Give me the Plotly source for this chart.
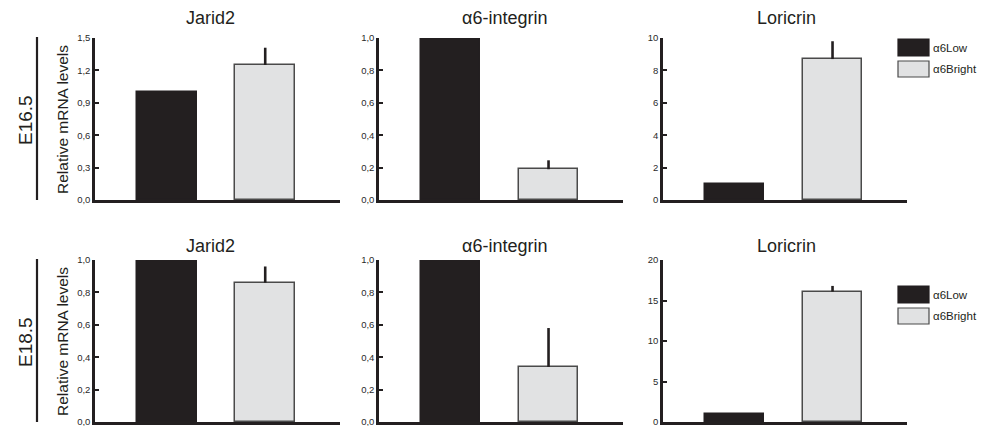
import plotly.graph_objects as go

# ---- data ----
genes = ["Jarid2", "α6-integrin", "Loricrin"]
stages = ["E16.5", "E18.5"]
groups = ["α6Low", "α6Bright"]

e165_jarid2 = [1.0, 1.25]
e165_jarid2_err = [0.0, 0.16]
e165_itga6 = [1.0, 0.19]
e165_itga6_err = [0.0, 0.055]
e165_lor = [1.0, 8.7]
e165_lor_err = [0.0, 1.1]

e185_jarid2 = [1.0, 0.86]
e185_jarid2_err = [0.0, 0.10]
e185_itga6 = [1.0, 0.34]
e185_itga6_err = [0.0, 0.24]
e185_lor = [1.0, 16.1]
e185_lor_err = [0.0, 0.7]

yranges = [[0, 1.5], [0, 1.0], [0, 10], [0, 1.0], [0, 1.0], [0, 20]]
ytickvals = [[0, 0.3, 0.6, 0.9, 1.2, 1.5], [0, 0.2, 0.4, 0.6, 0.8, 1.0], [0, 2, 4, 6, 8, 10],
             [0, 0.2, 0.4, 0.6, 0.8, 1.0], [0, 0.2, 0.4, 0.6, 0.8, 1.0], [0, 5, 10, 15, 20]]
ytickfmt = [".1f", ".1f", "d", ".1f", ".1f", "d"]

values = [e165_jarid2, e165_itga6, e165_lor, e185_jarid2, e185_itga6, e185_lor]
errors = [e165_jarid2_err, e165_itga6_err, e165_lor_err, e185_jarid2_err, e185_itga6_err, e185_lor_err]

# ---- layout geometry ----
# page body has an 8px margin, so the figure is placed at (8, 8) in the window
OFF = 8
W, H = 992 - 2 * OFF, 434 - 2 * OFF
DARK = "#231f20"
GREY = "#e1e2e3"
FONT = "Liberation Sans, Arial, sans-serif"


def fx(px):
    return (px - OFF) / W


def fy(py):
    return 1 - (py - OFF) / H


col_px = [(95, 340), (379, 623), (663, 907)]
row_px = [(38, 200), (260, 422)]

fig = go.Figure()
layout = dict(
    width=W, height=H, margin=dict(l=0, r=0, t=0, b=0, autoexpand=False),
    paper_bgcolor="white", plot_bgcolor="white",
    showlegend=False, separators=",.",
    font=dict(family=FONT, color=DARK),
    bargap=0,
)

for i in range(6):
    r, c = divmod(i, 3)
    n = i + 1
    xa = "x" if n == 1 else f"x{n}"
    ya = "y" if n == 1 else f"y{n}"
    fig.add_trace(go.Bar(
        x=[0, 1], y=values[i], width=0.61,
        marker=dict(color=[DARK, GREY], line=dict(color=[DARK, "#4a4a4a"], width=1.5)),
        error_y=dict(type="data", symmetric=False, array=errors[i],
                     arrayminus=[0, 0], width=0, thickness=2.6, color=DARK),
        xaxis=xa, yaxis=ya,
    ))
    x0, x1 = col_px[c]
    y0, y1 = row_px[r]
    layout["xaxis" if n == 1 else f"xaxis{n}"] = dict(
        domain=[fx(x0), fx(x1)], range=[-0.73, 1.76], anchor=ya,
        showgrid=False, zeroline=False, showline=True, linewidth=2.5, linecolor=DARK,
        ticks="inside", tickvals=[1.755], ticklen=3, tickwidth=2, tickcolor=DARK,
        showticklabels=False, fixedrange=True,
    )
    layout["yaxis" if n == 1 else f"yaxis{n}"] = dict(
        domain=[fy(y1), fy(y0)], range=yranges[i], anchor=xa,
        showgrid=False, zeroline=False, showline=True, linewidth=2.5, linecolor=DARK,
        ticks="inside", ticklen=4, tickwidth=2, tickcolor=DARK,
        tickvals=ytickvals[i], tickformat=ytickfmt[i], ticklabeloverflow="allow",
        tickfont=dict(size=9.5, color="#2a2a2a", family=FONT), fixedrange=True,
    )

fig.update_layout(**layout)

annotations = []
shapes = []
title_x = [210, 504, 786]
title_y = [18, 246]
for r in range(2):
    for c in range(3):
        annotations.append(dict(x=fx(title_x[c]), y=fy(title_y[r]), xref="paper", yref="paper",
                                text=genes[c], showarrow=False, xanchor="center", yanchor="middle",
                                font=dict(size=18, family=FONT, color=DARK)))
    y0, y1 = row_px[r]
    mid = (y0 + y1) / 2
    annotations.append(dict(x=fx(25), y=fy(mid + 1), xref="paper", yref="paper",
                            text=stages[r], showarrow=False, textangle=-90,
                            xanchor="center", yanchor="middle",
                            font=dict(size=19, family=FONT, color=DARK)))
    annotations.append(dict(x=fx(62), y=fy(mid + 1), xref="paper", yref="paper",
                            text="Relative mRNA levels", showarrow=False, textangle=-90,
                            xanchor="center", yanchor="middle",
                            font=dict(size=15.5, family=FONT, color=DARK)))
    shapes.append(dict(type="line", xref="paper", yref="paper",
                       x0=fx(37), x1=fx(37), y0=fy(y1), y1=fy(y0 - 1),
                       line=dict(color=DARK, width=2.2)))

legend_top = [39, 286]
for r in range(2):
    ly = legend_top[r]
    boxes = [(ly, ly + 17, DARK, DARK), (ly + 22, ly + 38, GREY, "#4a4a4a")]
    for k, (a, b, fc, lc) in enumerate(boxes):
        shapes.append(dict(type="rect", xref="paper", yref="paper",
                           x0=fx(898), x1=fx(929), y0=fy(b), y1=fy(a),
                           fillcolor=fc, line=dict(color=lc, width=1.2)))
        annotations.append(dict(x=fx(931), y=fy((a + b) / 2), xref="paper", yref="paper",
                                text=groups[k], showarrow=False, xanchor="left", yanchor="middle",
                                font=dict(size=11.5, family=FONT, color=DARK)))

fig.update_layout(annotations=annotations, shapes=shapes)
fig.write_html("out.html")
